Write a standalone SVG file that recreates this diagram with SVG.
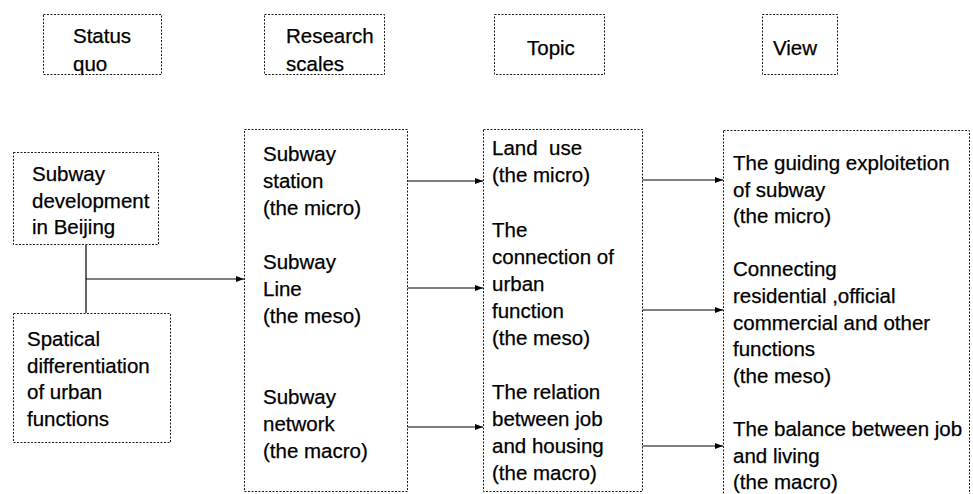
<svg xmlns="http://www.w3.org/2000/svg" width="973" height="494" viewBox="0 0 973 494">
<defs>
<style>
.box{fill:#fff;stroke:#1a1a1a;stroke-width:1;stroke-dasharray:2 1.5}
.t{font-family:"Liberation Sans",Arial,sans-serif;font-size:20.5px;fill:#000;stroke:#000;stroke-width:0.25;white-space:pre}
.c{stroke:#000;stroke-width:1.2;fill:none}
.a{marker-end:url(#ah)}
</style>
<marker id="ah" viewBox="0 0 8 6" refX="8" refY="3" markerWidth="8" markerHeight="6" markerUnits="userSpaceOnUse" orient="auto">
<path d="M0,0 L8,3 L0,6 Z" fill="#000"/>
</marker>
</defs>
<rect width="973" height="494" fill="#fff"/>

<g id="h-status"><rect class="box" x="43.5" y="14.5" width="118" height="60"/><text class="t" x="73" y="43">Status</text><text class="t" x="73" y="71">quo</text></g>
<g id="h-scales"><rect class="box" x="264.5" y="14.5" width="120" height="60"/><text class="t" x="286" y="43">Research</text><text class="t" x="286" y="71">scales</text></g>
<g id="h-topic"><rect class="box" x="494.5" y="14.5" width="110" height="60"/><text class="t" x="527" y="55">Topic</text></g>
<g id="h-view"><rect class="box" x="762.5" y="14.5" width="75" height="60"/><text class="t" x="773" y="55">View</text></g>

<g id="connectors">
<path class="c" d="M86,245 V313"/>
<path class="c a" d="M86,279 H244"/>
<path class="c a" d="M407,181 H483"/>
<path class="c a" d="M407,288 H483"/>
<path class="c a" d="M407,427 H483"/>
<path class="c a" d="M642,180 H723"/>
<path class="c a" d="M642,310 H723"/>
<path class="c a" d="M642,446 H723"/>
</g>

<g id="subway-dev"><rect class="box" x="13.5" y="152.5" width="145" height="92"/>
<text class="t" x="32" y="181">Subway</text><text class="t" x="32" y="207.5">development</text><text class="t" x="32" y="234">in Beijing</text></g>

<g id="spatial-diff"><rect class="box" x="13.5" y="313.5" width="157" height="129"/>
<text class="t" x="27" y="346">Spatical</text><text class="t" x="27" y="372.5">differentiation</text><text class="t" x="27" y="399">of urban</text><text class="t" x="27" y="425.5">functions</text></g>

<g id="scales"><rect class="box" x="244.5" y="129.5" width="163" height="362"/>
<text class="t" x="263" y="161">Subway</text><text class="t" x="263" y="188">station</text><text class="t" x="263" y="215">(the micro)</text>
<text class="t" x="263" y="269">Subway</text><text class="t" x="263" y="296">Line</text><text class="t" x="263" y="323">(the meso)</text>
<text class="t" x="263" y="404">Subway</text><text class="t" x="263" y="431">network</text><text class="t" x="263" y="458">(the macro)</text></g>

<g id="topic"><rect class="box" x="483.5" y="129.5" width="159" height="362"/>
<text class="t" x="492" y="155">Land  use</text><text class="t" x="492" y="182">(the micro)</text>
<text class="t" x="492" y="236.5">The</text><text class="t" x="492" y="263.5">connection of</text><text class="t" x="492" y="290.5">urban</text><text class="t" x="492" y="317.5">function</text><text class="t" x="492" y="344.5">(the meso)</text>
<text class="t" x="492" y="398.5">The relation</text><text class="t" x="492" y="425.5">between job</text><text class="t" x="492" y="452.5">and housing</text><text class="t" x="492" y="479.5">(the macro)</text></g>

<g id="view"><rect class="box" x="723.5" y="130.5" width="246" height="380"/>
<text class="t" x="733" y="170">The guiding exploitetion</text><text class="t" x="733" y="196.6">of subway</text><text class="t" x="733" y="223.2">(the micro)</text>
<text class="t" x="733" y="276.4">Connecting</text><text class="t" x="733" y="303">residential ,official</text><text class="t" x="733" y="329.6">commercial and other</text><text class="t" x="733" y="356.2">functions</text><text class="t" x="733" y="382.8">(the meso)</text>
<text class="t" x="733" y="436">The balance between job</text><text class="t" x="733" y="462.6">and living</text><text class="t" x="733" y="489.2">(the macro)</text></g>
</svg>
